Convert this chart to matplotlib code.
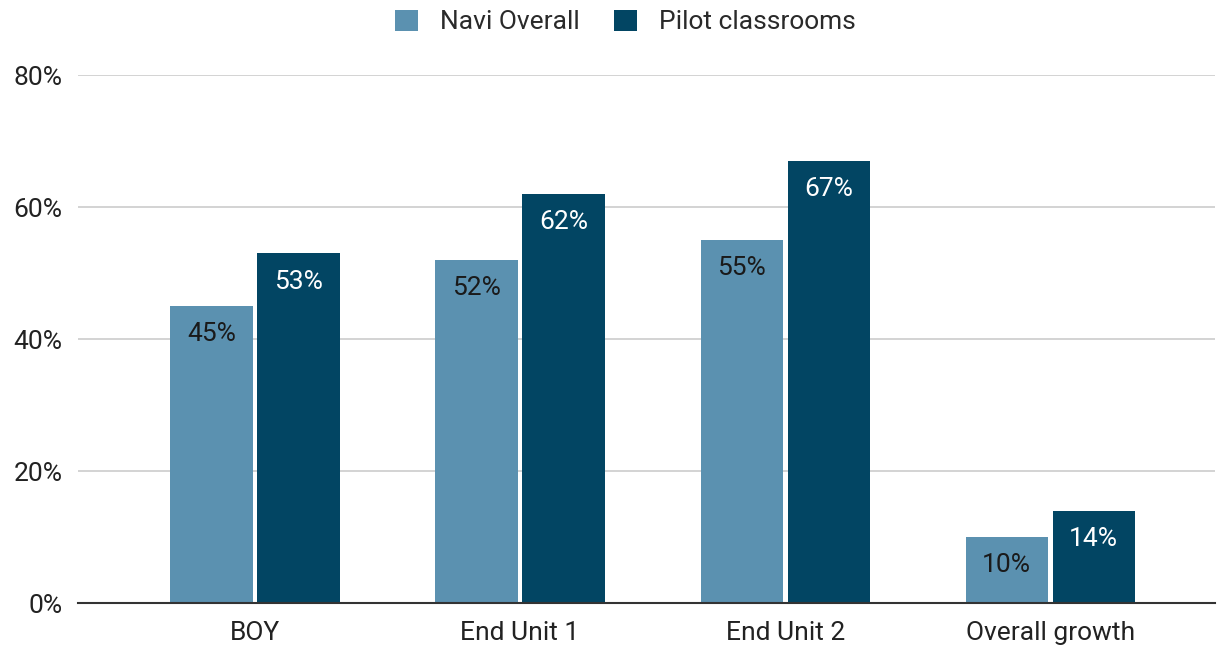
import numpy as np
import matplotlib
matplotlib.use("Agg")
import matplotlib.pyplot as plt

# --- data ---
categories = ["BOY", "End Unit 1", "End Unit 2", "Overall growth"]
navi_overall = [45, 52, 55, 10]
pilot_classrooms = [53, 62, 67, 14]
series_names = ["Navi Overall", "Pilot classrooms"]

light = "#5b91b0"
dark = "#024563"

plt.rcParams["font.family"] = ["Roboto", "DejaVu Sans"]

fig = plt.figure(figsize=(12.17, 6.45), dpi=100)
ax = fig.add_axes([0.064, 0.065, 0.934, 0.8187])

x = np.arange(len(categories))
w = 0.31
off = 0.164
b1 = ax.bar(x - off, np.array(navi_overall) / 100, w, color=light, label=series_names[0], zorder=3)
b2 = ax.bar(x + off, np.array(pilot_classrooms) / 100, w, color=dark, label=series_names[1], zorder=3)

for bars, vals, col in [(b1, navi_overall, "#1a1a1a"), (b2, pilot_classrooms, "white")]:
    for rect, v in zip(bars, vals):
        ax.text(rect.get_x() + rect.get_width() / 2, rect.get_height() - 0.043,
                f"{v}%", ha="center", va="center", fontsize=19, color=col, zorder=4)

ax.set_ylim(0, 0.8)
ax.set_xlim(-0.668, 3.62)
ax.set_yticks([0, 0.2, 0.4, 0.6, 0.8])
ax.set_yticklabels(["0%", "20%", "40%", "60%", "80%"])
ax.set_xticks(x)
ax.set_xticklabels(categories)
ax.tick_params(axis="both", length=0, labelsize=19, labelcolor="#222222")
ax.tick_params(axis="y", pad=11)
ax.tick_params(axis="x", pad=13)

ax.grid(axis="y", color="#cccccc", linewidth=1.2, zorder=0)
for s in ["top", "right", "left"]:
    ax.spines[s].set_visible(False)
ax.spines["bottom"].set_color("#333333")
ax.spines["bottom"].set_linewidth(1.5)
ax.spines["bottom"].set_zorder(5)

fig.legend(handles=[b1, b2], labels=series_names, loc="upper center",
           bbox_to_anchor=(0.514, 1.022), ncol=2, frameon=False, fontsize=19,
           handlelength=0.85, handleheight=0.85, columnspacing=1.3, handletextpad=0.85,
           labelcolor="#2a2a2a")

fig.savefig("out.png", dpi=100)
